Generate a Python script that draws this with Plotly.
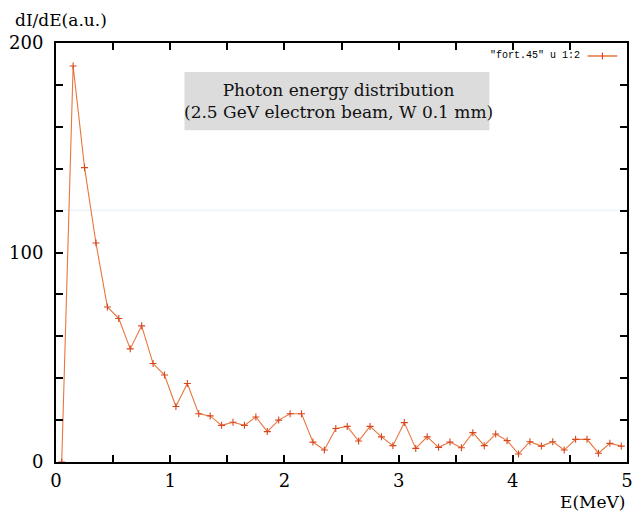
import plotly.graph_objects as go

# Photon energy spectrum (gnuplot output "fort.45", columns 1:2)
energy_mev = [0.05, 0.15, 0.25, 0.35, 0.45, 0.55, 0.65, 0.75, 0.85, 0.95,
              1.05, 1.15, 1.25, 1.35, 1.45, 1.55, 1.65, 1.75, 1.85, 1.95,
              2.05, 2.15, 2.25, 2.35, 2.45, 2.55, 2.65, 2.75, 2.85, 2.95,
              3.05, 3.15, 3.25, 3.35, 3.45, 3.55, 3.65, 3.75, 3.85, 3.95,
              4.05, 4.15, 4.25, 4.35, 4.45, 4.55, 4.65, 4.75, 4.85, 4.95]
intensity = [0.0, 189.0, 140.5, 104.5, 74.0, 68.5, 54.0, 65.0, 47.0, 41.5,
             26.5, 37.5, 23.0, 22.0, 17.5, 19.0, 17.5, 21.5, 14.5, 20.0,
             23.0, 23.0, 9.5, 5.7, 16.0, 17.0, 10.0, 17.0, 12.0, 7.8,
             18.8, 6.5, 12.0, 7.0, 9.5, 6.8, 14.0, 7.8, 13.4, 10.2,
             3.8, 9.7, 7.6, 9.7, 5.7, 10.8, 10.8, 4.2, 8.9, 7.6]

x_tickvals = [0, 1, 2, 3, 4, 5]
y_tickvals = [0, 100, 200]

series_name = '"fort.45" u 1:2'
title_lines = ["Photon energy distribution", "(2.5 GeV electron beam, W 0.1 mm)"]

LINE = "#E8763E"
MARK = "#D8461E"
SERIF = "DejaVu Serif"

fig = go.Figure()
fig.add_trace(go.Scatter(
    x=energy_mev, y=intensity, mode="lines+markers", name=series_name,
    line=dict(color=LINE, width=1.1),
    marker=dict(symbol="cross-thin", size=5, color=MARK,
                line=dict(color=MARK, width=1.1)),
    showlegend=False,
))

axis_common = dict(
    showline=True, linecolor="black", linewidth=2, mirror="ticks",
    ticks="inside", ticklen=7, tickwidth=1.5, tickcolor="black",
    showgrid=False, zeroline=False,
    tickfont=dict(family=SERIF, size=18, color="black"),
)

fig.update_xaxes(range=[0, 5], tickvals=x_tickvals,
                 minor=dict(dtick=0.5, ticks="inside", ticklen=7,
                            tickwidth=1.5, tickcolor="black"),
                 ticklabelstandoff=1, **axis_common)
fig.update_yaxes(range=[0, 200], tickvals=y_tickvals,
                 minor=dict(dtick=20, ticks="inside", ticklen=7,
                            tickwidth=1.5, tickcolor="black"),
                 ticklabelstandoff=7, **axis_common)

# Faint horizontal streak across the frame
fig.add_shape(type="line", xref="paper", yref="paper", x0=0, x1=1,
              y0=0.601, y1=0.601, line=dict(color="#DDF1F6", width=1),
              layer="below")

# Shaded title box
fig.add_shape(type="rect", xref="paper", yref="paper",
              x0=0.225, x1=0.759, y0=0.792, y1=0.931,
              fillcolor="#DCDCDC", line=dict(width=0), layer="below")
fig.add_annotation(xref="paper", yref="paper", x=0.494, y=0.862,
                   text="<br>".join(title_lines), showarrow=False,
                   font=dict(family=SERIF, size=17, color="#111"),
                   align="center", xanchor="center", yanchor="middle")

# Key: label followed by a short line with a cross
fig.add_annotation(xref="paper", yref="paper", x=0.922, y=0.969,
                   text=series_name, showarrow=False, xanchor="right",
                   yanchor="middle",
                   font=dict(family="Liberation Mono", size=10, color="black"))
fig.add_shape(type="line", xref="paper", yref="paper",
              x0=0.931, x1=0.983, y0=0.969, y1=0.969,
              line=dict(color=LINE, width=1.5))
fig.add_shape(type="line", xref="paper", yref="paper",
              x0=0.957, x1=0.957, y0=0.961, y1=0.977,
              line=dict(color=MARK, width=1.2))

# Axis titles placed as gnuplot does: top-left and bottom-right
fig.add_annotation(xref="paper", yref="paper", x=-0.076, y=1.055,
                   text="dI/dE(a.u.)", showarrow=False, xanchor="left",
                   yanchor="middle",
                   font=dict(family=SERIF, size=17, color="black"))
fig.add_annotation(xref="paper", yref="paper", x=1.0, y=-0.095,
                   text="E(MeV)", showarrow=False, xanchor="right",
                   yanchor="middle",
                   font=dict(family=SERIF, size=17, color="black"))

fig.update_layout(
    width=641, height=512,
    margin=dict(l=56, r=8, t=43, b=50),
    paper_bgcolor="white", plot_bgcolor="white",
)

fig.write_html("out.html")
